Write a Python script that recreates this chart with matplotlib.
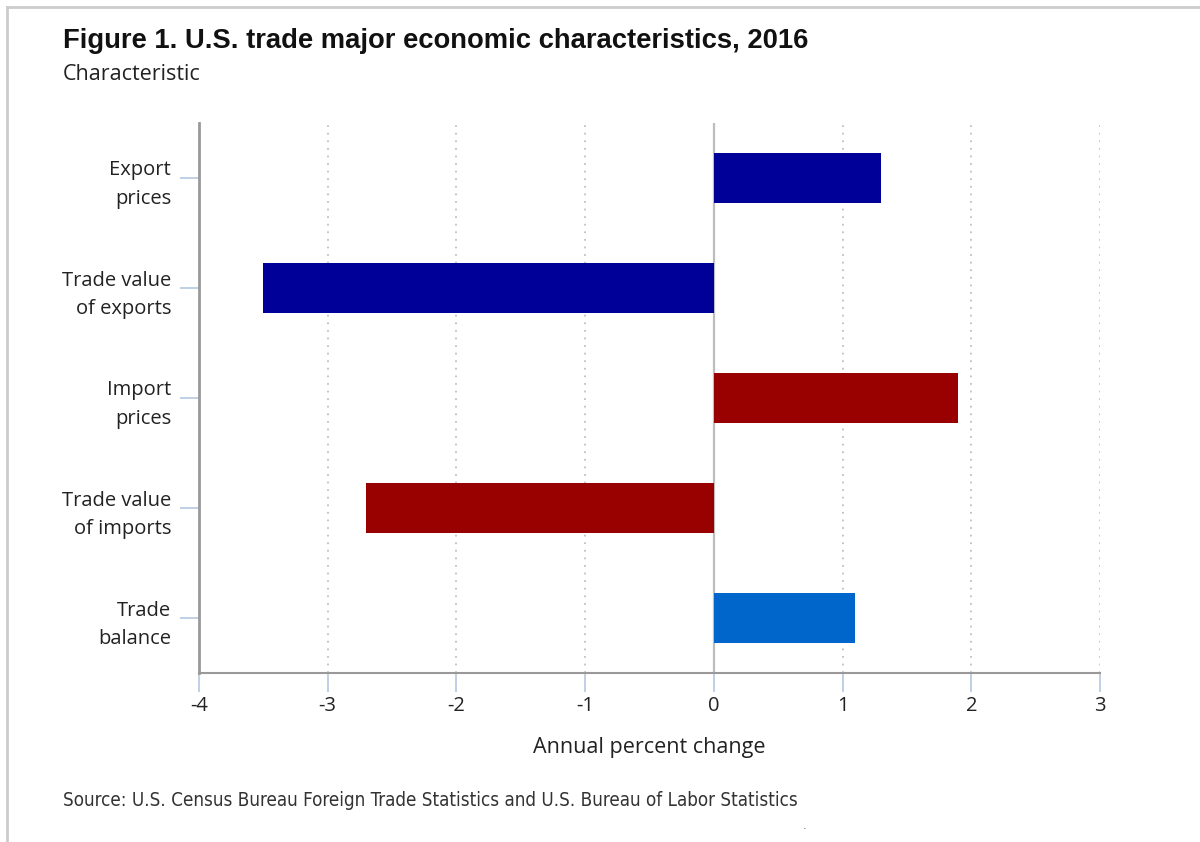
import matplotlib
matplotlib.use("Agg")
import matplotlib.pyplot as plt
from matplotlib.lines import Line2D

categories = ["Export\nprices", "Trade value\nof exports", "Import\nprices",
              "Trade value\nof imports", "Trade\nbalance"]
values = [1.3, -3.5, 1.9, -2.7, 1.1]
colors = ["#000099", "#000099", "#990000", "#990000", "#0066CC"]
xticks = [-4, -3, -2, -1, 0, 1, 2, 3]

title = "Figure 1. U.S. trade major economic characteristics, 2016"
subtitle = "Characteristic"
xlabel = "Annual percent change"
source = "Source: U.S. Census Bureau Foreign Trade Statistics and U.S. Bureau of Labor Statistics"

W, H = 1200, 842
fig = plt.figure(figsize=(W / 100, H / 100), dpi=100)
fig.patch.set_facecolor("white")

ax = fig.add_axes([199 / W, 1 - 673 / H, (1100 - 199) / W, (673 - 123) / H])

ypos = list(range(len(categories)))
for t in xticks:
    if t == 0:
        ax.axvline(t, color="#bdbdbd", lw=1.6, zorder=1)
    elif t != xticks[0]:
        ax.axvline(t, color="#c0c0c0", lw=1.3, ls=(0, (1, 3.2)), zorder=1)

ax.barh(ypos, values, height=0.46, color=colors, edgecolor="none", zorder=3)

ax.set_xlim(-4, 3)
ax.set_ylim(len(categories) - 0.5, -0.5)
ax.set_xticks(xticks)
ax.set_xticklabels([str(t) for t in xticks], fontsize=14.5, family="Open Sans", color="#222222")
ax.set_yticks(ypos)
ax.set_yticklabels(categories, fontsize=14.5, family="Open Sans", color="#222222",
                   ha="right", linespacing=1.55)

ax.tick_params(axis="y", length=14, width=1.2, color="#b4c8e0", pad=6)
ax.tick_params(axis="x", length=13.5, width=1.2, color="#b4c8e0", pad=3)

for s in ["top", "right"]:
    ax.spines[s].set_visible(False)
ax.spines["left"].set_color("#999999")
ax.spines["left"].set_linewidth(2)
ax.spines["bottom"].set_color("#999999")
ax.spines["bottom"].set_linewidth(1.5)

ax.set_xlabel(xlabel, fontsize=15.5, family="Open Sans", color="#222222", labelpad=15)

fig.text(63 / W, 1 - 41 / H, title, fontsize=19.7, fontweight="bold",
         family="Liberation Sans", color="#111111", va="center", ha="left")
fig.text(63 / W, 1 - 75 / H, subtitle, fontsize=15.5, family="Open Sans",
         color="#222222", va="center", ha="left")
fig.text(63 / W, 1 - 800 / H, source, fontsize=13.5, family="DejaVu Sans",
         fontstretch="condensed", color="#333333", va="center", ha="left")
fig.text(805 / W, 1 - 826 / H, ".", fontsize=8, family="DejaVu Sans",
         color="#555555", va="center", ha="center")

fig.add_artist(Line2D([7 / W, 1], [1 - 7 / H, 1 - 7 / H], transform=fig.transFigure,
                      color="#cccccc", lw=2))
fig.add_artist(Line2D([7 / W, 7 / W], [1 - 7 / H, 0], transform=fig.transFigure,
                      color="#cccccc", lw=2))

fig.savefig("out.png", dpi=100, facecolor="white")
